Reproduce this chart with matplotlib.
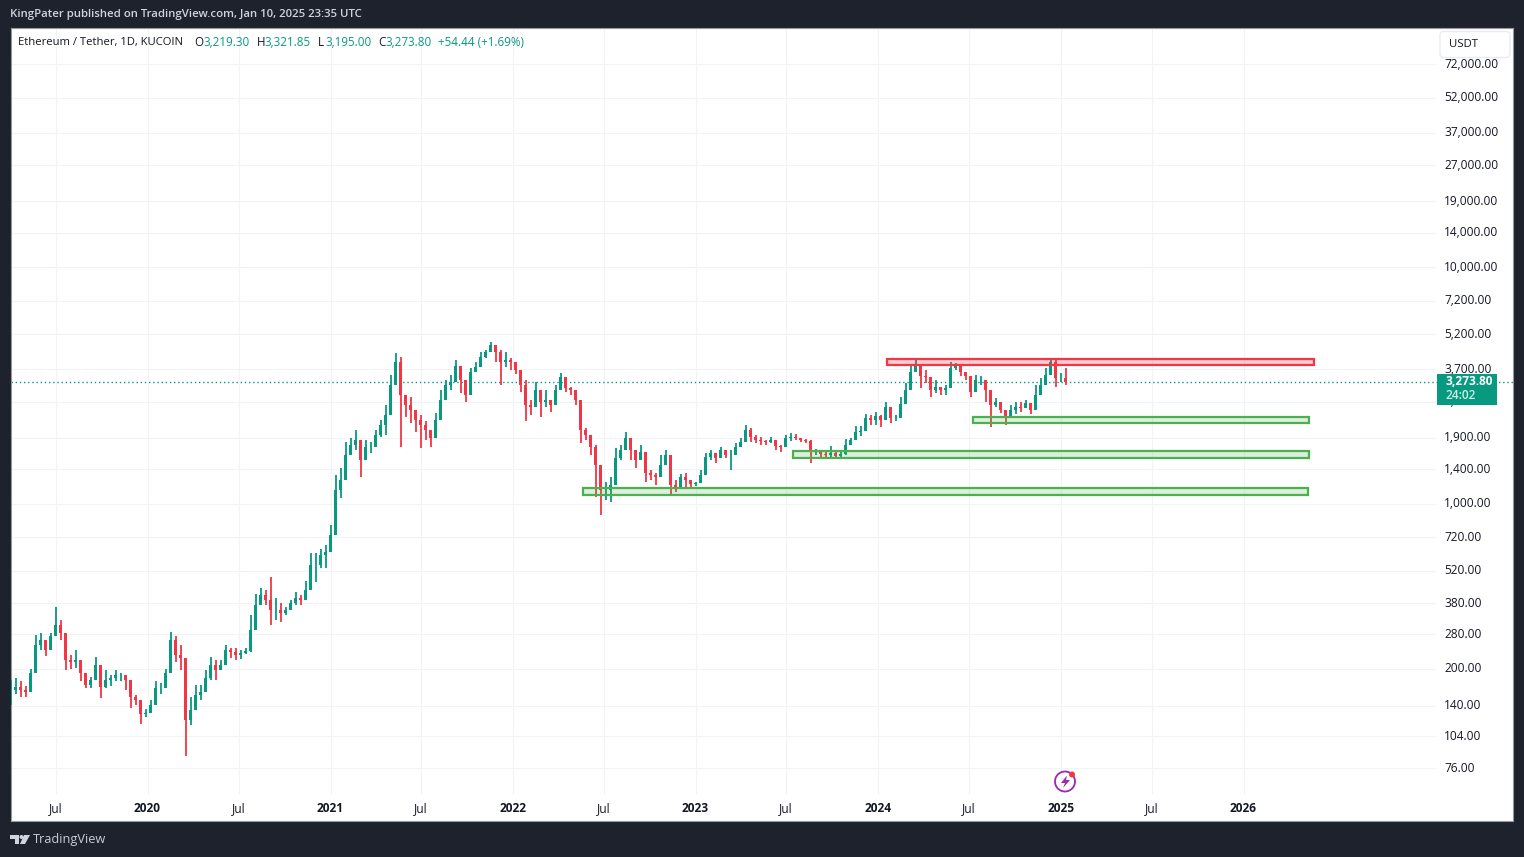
#
# ETH/USDT daily chart, log scale, TradingView look
#

import pandas as pd
import matplotlib
matplotlib.use("Agg")
from matplotlib import pyplot as plt
from matplotlib import dates as mdates
from matplotlib.colors import to_rgba
from matplotlib.ticker import NullLocator
from matplotlib.transforms import ScaledTranslation
from matplotlib.patches import Rectangle, FancyBboxPatch, Polygon, Circle, Arc

plt.rcParams['font.family'] = ['Open Sans', 'DejaVu Sans']

# prices, one bar every 10 days up to the last session
last_day = '2025-01-10'
highs = [180,183,178,170,200,279,285,253,285,367,
         323,271,230,241,202,185,185,225,198,198,
         189,198,193,189,160,155,137,135,148,177,
         175,200,288,275,253,198,152,171,171,198,
         225,219,219,253,246,246,241,246,339,416,
         441,432,489,400,381,367,392,423,412,472,
         616,616,643,670,814,1324,1418,1831,1897,2052,
         1808,1861,1824,2052,2261,2617,3504,4340,4175,2884,
         2829,2422,2374,2239,2052,2422,3028,3338,3504,4055,
         3679,3115,3752,3977,4384,4469,4831,4692,4469,4384,
         4133,3862,3434,3338,2747,3270,2884,3028,2747,3179,
         3579,3245,3115,2970,2154,2093,1861,1773,1298,1236,
         1298,1723,1773,2013,1824,1689,1773,1489,1390,1351,
         1609,1689,1351,1261,1336,1351,1236,1236,1390,1640,
         1689,1640,1739,1656,1689,1805,1897,2154,2093,1954,
         1917,1861,1917,1824,1773,1954,1993,1973,1897,1880,
         1861,1706,1656,1672,1756,1689,1689,1880,1897,2133,
         2133,2397,2374,2445,2374,2693,2445,2374,2829,3245,
         3862,4094,3679,3679,3270,3338,3115,3179,3977,3939,
         3752,3606,3179,3504,3469,3338,2801,2801,2617,2445,
         2617,2693,2693,2747,2617,3179,3400,3752,4133,4055,
         3579,3752]
lows = [141,157,152,152,166,198,241,226,251,279,
        266,198,200,202,177,166,166,180,151,166,
        170,177,177,163,137,141,117,125,131,155,
        157,177,241,213,198,86,116,141,148,163,
        180,180,198,219,223,219,221,232,236,293,
        374,374,307,323,317,339,356,374,374,400,
        477,468,536,536,626,897,1060,1390,1640,1689,
        1298,1609,1640,1773,1917,1954,2747,3338,1739,2329,
        2197,2013,1723,1861,1739,2052,2445,3028,3028,3579,
        2942,2693,3338,3606,3977,4133,4469,3977,3179,3786,
        3679,3538,2970,2239,2374,2747,2329,2565,2445,2829,
        3245,2970,2884,2617,1805,1861,1609,1069,897,1038,
        1017,1390,1532,1739,1532,1418,1532,1236,1261,1201,
        1362,1460,1090,1122,1213,1178,1178,1190,1236,1489,
        1532,1489,1576,1560,1390,1609,1739,1861,1824,1805,
        1773,1773,1805,1689,1656,1861,1842,1861,1824,1805,
        1489,1609,1576,1546,1576,1546,1560,1609,1805,1861,
        1935,2154,2154,2154,2113,2374,2197,2239,2445,2856,
        3179,3606,3090,3245,2829,2942,2884,2884,3245,3679,
        3469,3338,2829,3179,3179,2693,2113,2565,2422,2154,
        2329,2397,2445,2565,2397,2540,3028,3270,3679,3115,
        3270,3179]
closes = [163,168,163,160,193,253,266,241,275,307,
          285,219,214,219,193,171,180,208,167,180,
          184,189,189,180,152,148,129,130,141,166,
          166,193,266,230,223,122,134,155,160,184,
          208,198,208,241,236,230,234,239,293,374,
          412,392,356,356,346,356,381,400,392,432,
          552,552,608,626,739,1144,1261,1609,1773,1861,
          1532,1739,1739,1954,2154,2374,3179,3977,2884,2617,
          2493,2261,2154,2052,1897,2261,2747,3179,3270,3825,
          3338,2884,3606,3786,4175,4384,4692,4384,3977,4055,
          3977,3679,3179,2617,2565,3028,2693,2747,2617,3028,
          3434,3090,3028,2747,2052,1954,1739,1460,1144,1144,
          1201,1560,1689,1897,1689,1532,1656,1351,1324,1298,
          1460,1609,1201,1178,1298,1261,1213,1225,1324,1576,
          1640,1560,1689,1609,1609,1739,1824,2052,1917,1861,
          1842,1824,1861,1756,1739,1897,1917,1897,1861,1842,
          1656,1656,1625,1609,1640,1593,1625,1773,1861,2013,
          2032,2306,2261,2352,2261,2565,2306,2306,2642,3028,
          3606,3862,3469,3434,3028,3115,3028,3090,3752,3825,
          3606,3469,2970,3338,3338,3028,2617,2693,2493,2306,
          2493,2565,2540,2667,2493,2884,3179,3504,3977,3400,
          3400,3273.8]

price_ticks = [76,104,140,200,280,380,520,720,1000,1400,1900,2700,3700,5200,
               7200,10000,14000,19000,27000,37000,52000,72000]
time_ticks = ['2019-07-01','2020-01-01','2020-07-01','2021-01-01','2021-07-01','2022-01-01',
              '2022-07-01','2023-01-01','2023-07-01','2024-01-01','2024-07-01','2025-01-01',
              '2025-07-01','2026-01-01']
time_labels = ['Jul','2020','Jul','2021','Jul','2022','Jul','2023','Jul','2024','Jul','2025','Jul','2026']

# zones drawn on the chart: start, end, bottom price, top price
red_zone = ('2024-01-19','2026-05-22',3862,4089)
green_zones = [('2024-07-09','2026-05-12',2197,2326),
               ('2023-07-15','2026-05-12',1560,1672),
               ('2022-05-21','2026-05-10',1090,1167)]
last_price = 3273.80

UP = '#089981'
DOWN = '#F23645'
GREEN = '#4CAF50'
DARK = '#1E222D'
TEXT = '#131722'
GRID = '#F2F3F5'

def day(s):
    return mdates.date2num(pd.Timestamp(s))

fig = plt.figure(figsize=(15.24,8.57), dpi=100, facecolor=DARK)
ax = fig.add_axes([11/1524, 36/857, 1502/1524, 793/857])
ax.set_yscale('log')
x_left = day('2019-04-03')
x_right = day('2027-06-24')
ax.set_xlim(x_left, x_right)
ax.set_ylim(45.5, 102700)
for s in ax.spines.values():
    s.set_color('#9598A1')
    s.set_linewidth(0.8)

# grid stops short of the price scale and the time scale
grid_end = day('2027-01-19')
time_days = [day(t) for t in time_ticks]
ax.hlines(price_ticks, x_left, grid_end, color=GRID, lw=0.8, zorder=1)
ax.vlines(time_days, 59, 102700, color=GRID, lw=0.8, zorder=1)

ax.set_yticks(price_ticks, ['{:,.2f}'.format(p) for p in price_ticks])
ax.yaxis.set_minor_locator(NullLocator())
ax.yaxis.tick_right()
ax.tick_params(axis='y', length=0, pad=-49.7, labelsize=8.6, labelcolor=TEXT)
for t in ax.get_yticklabels():
    t.set_ha('left')
    t.set_transform(t.get_transform() + ScaledTranslation(0, 1.1/72, fig.dpi_scale_trans))

ax.set_xticks(time_days, time_labels)
ax.tick_params(axis='x', length=0, pad=-13.8, labelsize=8.6, labelcolor=TEXT)
for t, lab in zip(ax.get_xticklabels(), time_labels):
    if lab != 'Jul':
        t.set_fontweight('bold')

# candles, each bar opens where the one before it closed
days = mdates.date2num(pd.date_range(end=last_day, periods=len(closes), freq='10D'))
opens = [closes[0]] + closes[:-1]
colors = [UP if c >= o else DOWN for o, c in zip(opens, closes)]
ax.vlines(days, lows, highs, colors=colors, lw=1.3, zorder=3)
ax.bar(days, [abs(c-o) for o, c in zip(opens, closes)], bottom=[min(o, c) for o, c in zip(opens, closes)],
       width=7.5, color=colors, zorder=3)

ax.hlines(last_price, x_left, x_right, color=UP, lw=1, linestyles=(0,(1,2)), zorder=2)

# zones sit over the candles, the fill lets them show through
def zone(z, edge, alpha):
    x0, x1 = day(z[0]), day(z[1])
    ax.add_patch(Rectangle((x0, z[2]), x1-x0, z[3]-z[2], facecolor=to_rgba(edge, alpha), edgecolor=edge, lw=1.6, zorder=4))

zone(red_zone, DOWN, 0.25)
for z in green_zones:
    zone(z, GREEN, 0.2)

# everything around the chart, in pixels of the picture
over = fig.add_axes([0,0,1,1], zorder=10)
over.set_xlim(0,1524)
over.set_ylim(857,0)
over.axis('off')

over.text(10, 14.5, 'KingPater published on TradingView.com, Jan 10, 2025 23:35 UTC', color='#D1D4DC',
          fontsize=8.2, va='center', fontweight='semibold')

over.text(18, 42, 'Ethereum / Tether, 1D, KUCOIN', color=TEXT, fontsize=8.1, va='center')
for x, s in [(194,'O'),(257,'H'),(318,'L'),(378,'C')]:
    over.text(x, 42, s, color=TEXT, fontsize=8.4, va='center')
for x, s in [(203,'3,219.30'),(264,'3,321.85'),(325,'3,195.00'),(385,'3,273.80'),(438,'+54.44 (+1.69%)')]:
    over.text(x, 42, s, color=UP, fontsize=8.4, va='center')

# currency button
over.add_patch(FancyBboxPatch((1440,31.5), 70, 26, boxstyle='round,pad=0,rounding_size=4',
                              facecolor='white', edgecolor='#E9EBF0', lw=1))
over.text(1449, 44.5, 'USDT', color=TEXT, fontsize=8.2, va='center')

# last price tag
over.add_patch(Rectangle((1437,374), 60, 30.5, facecolor=UP, edgecolor='none'))
over.text(1445, 381.5, '3,273.80', color='white', fontsize=8.6, va='center', fontweight='bold')
over.text(1445, 395.5, '24:02', color='#CFEDE5', fontsize=8.6, va='center', fontweight='semibold')

# lightning icon
over.add_patch(Arc((1065,781.5), 20, 20, theta1=0, theta2=360, color='#9C27B0', lw=1.3))
over.add_patch(Polygon([(1067,775.5),(1061,783),(1065,783),(1063,788),(1070,780),(1066,780)],
                       facecolor='#9C27B0', edgecolor='none'))
over.add_patch(Circle((1072,774.5), 3, facecolor=DOWN, edgecolor='none'))

# TradingView logo
logo = [[(10,835),(19,835),(19,844),(15,844),(15,839),(10,839)],
        [(24,835),(30,835),(25,844),(20,844)]]
for pts in logo:
    over.add_patch(Polygon(pts, facecolor='#D1D4DC', edgecolor='none'))
over.add_patch(Circle((21.5,837), 2, facecolor='#D1D4DC', edgecolor='none'))
over.text(33, 839.5, 'TradingView', color='#C9CCD4', fontsize=9.2, va='center')

fig.savefig('out.png', dpi=100, facecolor=fig.get_facecolor())
